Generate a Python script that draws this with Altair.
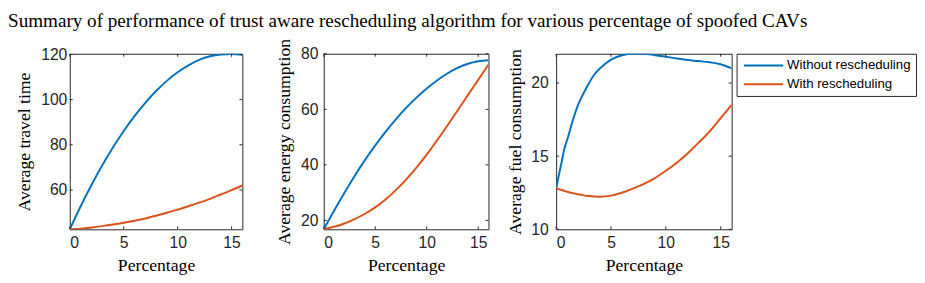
import altair as alt
import pandas as pd

TITLE = "Summary of performance of trust aware rescheduling algorithm for various percentage of spoofed CAVs"
S1 = "Without rescheduling"
S2 = "With rescheduling"
BLUE = "#0072BD"
RED = "#D95319"

x_ticks = [0, 5, 10, 15]

# Panel 1: Average travel time
p1_x = list(range(17))
p1_without = [42.6, 52.7, 62.1, 70.8, 78.8, 86.1, 92.7, 98.6, 103.8, 108.3, 112.1,
              115.2, 117.6, 119.2, 120.0, 120.2, 119.8]
p1_with = [42.6, 42.9, 43.4, 44.0, 44.7, 45.5, 46.4, 47.4, 48.6, 49.9, 51.3,
           52.8, 54.4, 56.1, 58.0, 59.9, 62.0]
p1_yticks = [60, 80, 100, 120]

# Panel 2: Average energy consumption
p2_x = list(range(17))
p2_without = [16.8, 23.5, 29.9, 36.0, 41.7, 47.0, 51.9, 56.4, 60.5, 64.2, 67.5,
              70.4, 72.9, 74.9, 76.4, 77.3, 77.7]
p2_with = [16.8, 17.7, 18.9, 20.5, 22.4, 24.7, 27.5, 30.9, 34.7, 39.0, 43.7,
           48.8, 54.1, 59.6, 65.1, 70.6, 76.1]
p2_yticks = [20, 40, 60, 80]

# Panel 3: Average fuel consumption
p3_x = [0, 0.25, 0.5, 0.75, 1, 1.5, 2, 2.5, 3, 3.5, 4, 5, 6, 7, 8, 9, 10,
        11, 12, 13, 14, 15, 16]
p3_without = [12.8, 13.7, 14.6, 15.5, 16.1, 17.4, 18.5, 19.3, 20.0, 20.6, 21.0,
              21.6, 21.9, 22.0, 22.0, 21.9, 21.8, 21.67, 21.57, 21.5, 21.42,
              21.28, 21.0]
p3_with = [12.8, 12.74, 12.69, 12.63, 12.57, 12.47, 12.39, 12.32, 12.27, 12.24,
           12.23, 12.3, 12.5, 12.78, 13.1, 13.5, 14.0, 14.55, 15.2, 15.93, 16.7,
           17.6, 18.5]
p3_yticks = [10, 15, 20]


def panel(xs, a, b, ydom, yticks, ytitle, w, h, label_pad, title_pad, spacer=None):
    df = pd.DataFrame({
        "x": xs + xs,
        "value": a + b,
        "series": [S1] * len(xs) + [S2] * len(xs),
    })
    xscale = alt.Scale(domain=[0, 16], nice=False, zero=False)
    yscale = alt.Scale(domain=ydom, nice=False, zero=False)
    lines = alt.Chart(df).mark_line(strokeWidth=2, interpolate="monotone", clip=True).encode(
        x=alt.X("x:Q", scale=xscale,
                axis=alt.Axis(values=x_ticks, title="Percentage", labelPadding=6,
                              titlePadding=6)),
        y=alt.Y("value:Q", scale=yscale,
                axis=alt.Axis(values=yticks, title=ytitle, labelPadding=label_pad,
                              titlePadding=title_pad)),
        color=alt.Color("series:N",
                        scale=alt.Scale(domain=[S1, S2], range=[BLUE, RED]),
                        legend=alt.Legend(title=None, orient="right", offset=4,
                                          strokeColor="#262626", fillColor="white",
                                          padding=5, labelFont="Liberation Sans",
                                          labelFontSize=13.5, labelColor="black",
                                          symbolType="M-0.75,0H5.917", symbolSize=144,
                                          symbolStrokeWidth=2, rowPadding=5,
                                          labelOffset=32.5)),
    )
    ydf = pd.DataFrame({"value": yticks})
    xdf = pd.DataFrame({"x": x_ticks})
    tk = dict(color="#262626", strokeWidth=1)
    lt = alt.Chart(ydf).mark_rule(**tk).encode(y=alt.Y("value:Q", scale=yscale),
                                               x=alt.value(0), x2=alt.value(3))
    rt = alt.Chart(ydf).mark_rule(**tk).encode(y=alt.Y("value:Q", scale=yscale),
                                               x=alt.value(w - 3), x2=alt.value(w))
    bt = alt.Chart(xdf).mark_rule(**tk).encode(x=alt.X("x:Q", scale=xscale),
                                               y=alt.value(h - 3), y2=alt.value(h))
    tt = alt.Chart(xdf).mark_rule(**tk).encode(x=alt.X("x:Q", scale=xscale),
                                               y=alt.value(0), y2=alt.value(3))
    layers = [lines, lt, rt, bt, tt]
    if spacer is not None:
        # invisible layout spacer that reserves room left of the y-axis title
        sp = alt.Chart(pd.DataFrame({"k": [0]})).mark_rule(
            strokeOpacity=0, strokeWidth=1).encode(
            x=alt.value(spacer), x2=alt.value(spacer),
            y=alt.value(h / 2), y2=alt.value(h / 2 + 1))
        layers.append(sp)
    return alt.layer(*layers).properties(width=w, height=h)


c1 = panel(p1_x, p1_without, p1_with, [42.6, 120.3], p1_yticks,
           "Average travel time", 176, 179, 3, 7, spacer=-62.5)
c2 = panel(p2_x, p2_without, p2_with, [16.8, 80], p2_yticks,
           "Average energy consumption", 168, 179, 6, 7)
c3 = panel(p3_x, p3_without, p3_with, [10, 22], p3_yticks,
           "Average fuel consumption", 179, 179, 8, 7)

left = alt.hconcat(c1, c2, spacing=32)
chart = alt.hconcat(left, c3, spacing=16).properties(
    title=alt.TitleParams(text=TITLE, anchor="start", font="Liberation Serif",
                          fontSize=19.5, fontWeight="normal", color="black",
                          offset=7),
    padding={"left": 0, "top": 0, "right": 0, "bottom": 0},
).configure_view(stroke="#262626", strokeWidth=1).configure_axis(
    domain=False, ticks=False, grid=False,
    labelFont="Liberation Sans", labelFontSize=16, labelColor="#262626",
    titleFont="Liberation Serif", titleFontSize=18, titleFontWeight="normal",
    titleColor="black",
)

chart.save("out.html", embed_options={"renderer": "svg", "actions": False})
